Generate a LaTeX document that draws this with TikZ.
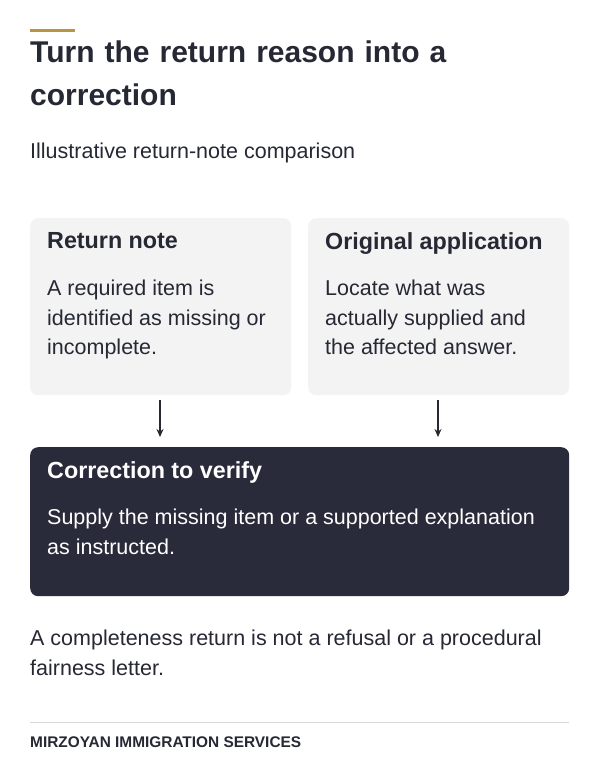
\documentclass[tikz,border=0pt]{standalone}
\usepackage{fontspec}
\setmainfont{Liberation Sans}
\usetikzlibrary{arrows.meta}
\begin{document}
\definecolor{ink}{HTML}{262834}
\definecolor{gold}{HTML}{B8963E}
\definecolor{card}{HTML}{F3F3F3}
\definecolor{dark}{HTML}{2A2B3A}
\begin{tikzpicture}[x=1pt,y=-1pt,
  txt/.style={anchor=north west,inner sep=0pt,align=left,text=ink},
  body/.style={txt,font=\fontsize{21.5}{29.3}\selectfont},
  head/.style={txt,font=\fontsize{23.3}{28}\bfseries\selectfont},
  arr/.style={draw=ink,line width=1.3pt,-{Stealth[length=8pt,width=7pt]}}]
\useasboundingbox[fill=white] (0,0) rectangle (600,766);
\fill[gold] (30,28.5) rectangle (75,31.5);
\node[txt,font=\fontsize{30}{43}\bfseries\selectfont,text width=540] (title) at (30,41) {Turn the return reason into a\\correction};
\node[body] (sub) at (30,143) {Illustrative return-note comparison};
\node[fill=card,rounded corners=8,minimum width=261,minimum height=177,anchor=north west,inner sep=0] (b1) at (30,218) {};
\node[fill=card,rounded corners=8,minimum width=261,minimum height=177,anchor=north west,inner sep=0] (b2) at (308,218) {};
\node[head] (h1) at (47,232) {Return note};
\node[body] (t1) at (47,280) {A required item is\\identified as missing or\\incomplete.};
\node[head] (h2) at (325,232) {Original application};
\node[body] (t2) at (325,280) {Locate what was\\actually supplied and\\the affected answer.};
\node[fill=dark,rounded corners=8,minimum width=539,minimum height=149,anchor=north west,inner sep=0] (b3) at (30,447) {};
\node[head,text=white] (h3) at (47,461) {Correction to verify};
\node[body,text=white] (t3) at (47,509) {Supply the missing item or a supported explanation\\as instructed.};
\coordinate (a1) at (160,400); \coordinate (a1e) at (160,437);
\coordinate (a2) at (438,400); \coordinate (a2e) at (438,437);
\draw[arr] (a1) -- (a1e);
\draw[arr] (a2) -- (a2e);
\node[body] (foot) at (30,630) {A completeness return is not a refusal or a procedural\\fairness letter.};
\draw[draw=black!15,line width=1pt] (30,722) -- (569,722);
\node[txt,font=\fontsize{15.4}{17}\bfseries\selectfont] (brand) at (30,737) {MIRZOYAN IMMIGRATION SERVICES};
\end{tikzpicture}
\end{document}
